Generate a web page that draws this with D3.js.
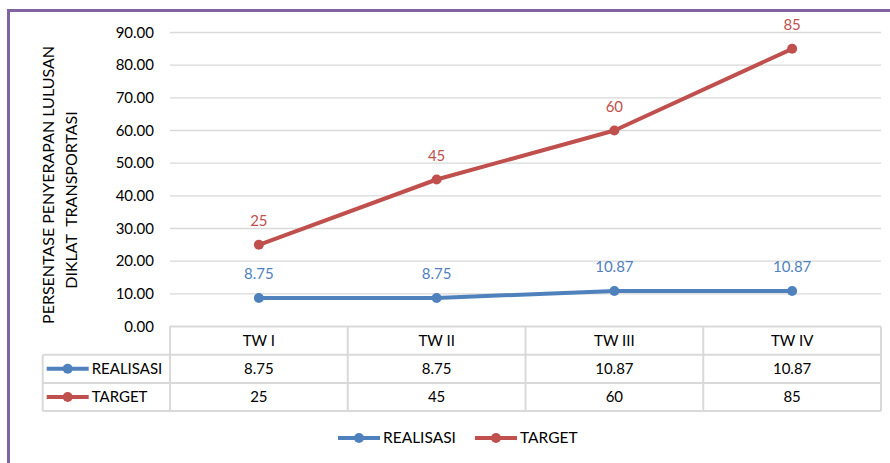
<!DOCTYPE html>
<html>
<head>
<meta charset="utf-8">
<script src="https://cdn.jsdelivr.net/npm/d3@7"></script>
<style>
  body { margin: 0; background: #fff; }
  text { font-family: Lato, "Open Sans", sans-serif; }
</style>
</head>
<body>
<div class="canvas"></div>
<script>
// data
const categories = ["TW I", "TW II", "TW III", "TW IV"];
const realisasi = [8.75, 8.75, 10.87, 10.87];
const target = [25, 45, 60, 85];
const realisasiLabels = ["8.75", "8.75", "10.87", "10.87"];
const targetLabels = ["25", "45", "60", "85"];
const yTicks = [0, 10, 20, 30, 40, 50, 60, 70, 80, 90];

const series = [
  { name: "REALISASI", values: realisasi, labels: realisasiLabels, color: "#4f81bd" },
  { name: "TARGET", values: target, labels: targetLabels, color: "#c0504d" },
];

// dimensions
const dims = { width: 890, height: 463 };
const plot = { left: 170, right: 881, top: 32.5, bottom: 326.5 };
const rowH = 28.2;
const keyLeft = 42.7;

const svg = d3
  .select(".canvas")
  .append("svg")
  .attr("width", dims.width)
  .attr("height", dims.height);

// purple frame (top + left only visible)
svg.append("path")
  .attr("d", `M8.5,${dims.height} V10.5 H${dims.width}`)
  .attr("fill", "none")
  .attr("stroke", "#8064a2")
  .attr("stroke-width", 3);

// scales
const x = d3.scaleBand().domain(categories).range([plot.left, plot.right]);
const y = d3.scaleLinear().domain([0, 90]).range([plot.bottom, plot.top]);

// gridlines
svg.append("g")
  .selectAll("line")
  .data(yTicks.slice(1))
  .join("line")
  .attr("x1", plot.left)
  .attr("x2", plot.right)
  .attr("y1", (d) => y(d))
  .attr("y2", (d) => y(d))
  .attr("stroke", "#d9d9d9")
  .attr("stroke-width", 1.3);

// y axis labels
const yAxis = svg.append("g")
  .attr("transform", `translate(${plot.left - 16},0)`)
  .call(d3.axisLeft(y).tickValues(yTicks).tickFormat(d3.format(".2f")).tickSize(0).tickPadding(0));
yAxis.select(".domain").remove();
yAxis.selectAll("text")
  .attr("font-size", 15)
  .attr("fill", "#000")
  .attr("font-family", "Lato, sans-serif");

// y axis title (two lines, rotated)
svg.append("text")
  .attr("transform", "translate(54,185) rotate(-90)")
  .attr("text-anchor", "middle")
  .attr("font-size", 16)
  .attr("fill", "#000")
  .text("PERSENTASE PENYERAPAN LULUSAN");
svg.append("text")
  .attr("transform", "translate(77,200) rotate(-90)")
  .attr("text-anchor", "middle")
  .attr("font-size", 16)
  .attr("fill", "#000")
  .style("white-space", "pre")
  .text("DIKLAT  TRANSPORTASI");

// lines + markers + labels
const line = d3.line()
  .x((d, i) => x(categories[i]) + x.bandwidth() / 2)
  .y((d) => y(d));

series.forEach((s) => {
  const g = svg.append("g");
  g.append("path")
    .attr("d", line(s.values))
    .attr("fill", "none")
    .attr("stroke", s.color)
    .attr("stroke-width", 4)
    .attr("stroke-linejoin", "round");
  g.selectAll("circle")
    .data(s.values)
    .join("circle")
    .attr("cx", (d, i) => x(categories[i]) + x.bandwidth() / 2)
    .attr("cy", (d) => y(d))
    .attr("r", 5)
    .attr("fill", s.color);
  g.selectAll("text")
    .data(s.values)
    .join("text")
    .attr("x", (d, i) => x(categories[i]) + x.bandwidth() / 2)
    .attr("y", (d) => y(d) - 19)
    .attr("text-anchor", "middle")
    .attr("font-size", 15)
    .attr("fill", s.color)
    .text((d, i) => s.labels[i]);
});

// data table
const table = svg.append("g");
const gridStroke = "#d9d9d9";
const tTop = plot.bottom;
const tBottom = tTop + rowH * 3;

// horizontal lines
table.append("line")
  .attr("x1", plot.left).attr("x2", plot.right)
  .attr("y1", tTop).attr("y2", tTop);
[1, 2, 3].forEach((r) => {
  table.append("line")
    .attr("x1", keyLeft).attr("x2", plot.right)
    .attr("y1", tTop + rowH * r).attr("y2", tTop + rowH * r);
});
// vertical lines
table.append("line")
  .attr("x1", keyLeft).attr("x2", keyLeft)
  .attr("y1", tTop + rowH).attr("y2", tBottom);
categories.forEach((c) => {
  table.append("line")
    .attr("x1", x(c)).attr("x2", x(c))
    .attr("y1", tTop).attr("y2", tBottom);
});
table.append("line")
  .attr("x1", plot.right).attr("x2", plot.right)
  .attr("y1", tTop).attr("y2", tBottom);
table.selectAll("line").attr("stroke", gridStroke).attr("stroke-width", 2);

// header
table.selectAll(".head")
  .data(categories)
  .join("text")
  .attr("class", "head")
  .attr("x", (d) => x(d) + x.bandwidth() / 2)
  .attr("y", tTop + rowH / 2 + 5)
  .attr("text-anchor", "middle")
  .attr("font-size", 15)
  .text((d) => d);

// legend key helper
const drawKey = (g, cx, cy, color) => {
  g.append("line")
    .attr("x1", cx - 21).attr("x2", cx + 21)
    .attr("y1", cy).attr("y2", cy)
    .attr("stroke", color).attr("stroke-width", 4);
  g.append("circle").attr("cx", cx).attr("cy", cy).attr("r", 5).attr("fill", color);
};

series.forEach((s, r) => {
  const cy = tTop + rowH * (r + 1) + rowH / 2;
  const kg = table.append("g");
  drawKey(kg, keyLeft + 25, cy, s.color);
  kg.append("text")
    .attr("x", keyLeft + 49)
    .attr("y", cy + 5)
    .attr("font-size", 15)
    .text(s.name);
  table.selectAll(".v" + r)
    .data(s.labels)
    .join("text")
    .attr("x", (d, i) => x(categories[i]) + x.bandwidth() / 2)
    .attr("y", cy + 5)
    .attr("text-anchor", "middle")
    .attr("font-size", 15)
    .text((d) => d);
});

// bottom legend
const legend = svg.append("g");
const legendX = [359, 496];
series.forEach((s, i) => {
  drawKey(legend, legendX[i], 438, s.color);
  legend.append("text")
    .attr("x", legendX[i] + 24)
    .attr("y", 443)
    .attr("font-size", 15.5)
    .text(s.name);
});
</script>
</body>
</html>
